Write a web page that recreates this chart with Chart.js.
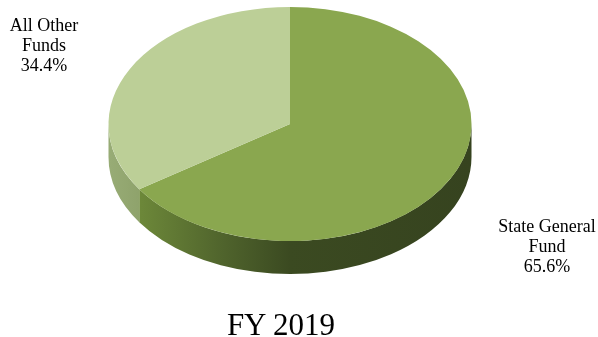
<!DOCTYPE html>
<html>
<head>
<meta charset="utf-8">
<title>FY 2019</title>
<script src="https://cdn.jsdelivr.net/npm/chart.js@4.4.1/dist/chart.umd.min.js"></script>
<style>
  html, body { margin: 0; padding: 0; background: #fff; }
  #wrap {
    position: relative; width: 598px; height: 337px; overflow: hidden;
    font-family: "Liberation Serif", "Times New Roman", serif; color: #000;
  }
  #wrap canvas { position: absolute; left: 0; top: 0; }
  .lbl { position: absolute; text-align: center; font-size: 18px; line-height: 20px; white-space: nowrap; }
  #title { position: absolute; left: 0; width: 562px; top: 309px; text-align: center; font-size: 31px; line-height: 31px; }
</style>
</head>
<body>
<div id="wrap">
  <canvas id="pie" width="598" height="337"></canvas>
  <div id="title">FY 2019</div>
</div>
<script>
// slices go clockwise from 12 o'clock
const categories = [['State General', 'Fund'], ['All Other', 'Funds']];
const shares = [65.6, 34.4];

// top face colours and the gradient stops for each slice's side wall
const faceColors = ['#8aa74f', '#bccf97'];
const wallStops = [
    [[0, '#7a9845'], [0.09, '#6c8739'], [0.32, '#4f632c'], [0.5, '#3b4a21'], [1, '#36431f']],
    [[0, '#98ac76'], [0.09, '#8ea26b'], [1, '#8ea26b']]
];
// where the text for each slice sits (left, top, width)
const labelBoxes = [[486, 216, 122], [0, 15, 88]];

const TILT = 0.645;   // vertical squash of the disc
const DEPTH = 33;     // thickness of the disc

// draws the rim of the disc, then squashes the flat pie into an ellipse
const tilt3d = {
    id: 'tilt3d',
    beforeDatasetsDraw(chart) {
        const ctx = chart.ctx;
        const arcs = chart.getDatasetMeta(0).data;
        if (!arcs.length) return;
        const { x, y, outerRadius } = arcs[0].getProps(['x', 'y', 'outerRadius'], true);
        const rx = outerRadius, ry = outerRadius * TILT;

        arcs.forEach((arc, i) => {
            const { startAngle, endAngle } = arc.getProps(['startAngle', 'endAngle'], true);
            const grad = ctx.createLinearGradient(x - rx, 0, x + rx, 0);
            wallStops[i].forEach(s => grad.addColorStop(s[0], s[1]));
            // only the front half (0..PI) of the rim can be seen
            [0, 2 * Math.PI, -2 * Math.PI].forEach(off => {
                const a0 = Math.max(startAngle, off);
                const a1 = Math.min(endAngle, off + Math.PI);
                if (a1 <= a0) return;
                ctx.beginPath();
                ctx.ellipse(x, y, rx, ry, 0, a0, a1, false);
                ctx.lineTo(x + rx * Math.cos(a1), y + DEPTH + ry * Math.sin(a1));
                ctx.ellipse(x, y + DEPTH, rx, ry, 0, a1, a0, true);
                ctx.closePath();
                ctx.fillStyle = grad;
                ctx.fill();
            });
        });

        ctx.save();
        ctx.translate(x, y);
        ctx.scale(1, TILT);
        ctx.translate(-x, -y);
    },
    afterDatasetsDraw(chart) {
        chart.ctx.restore();
    }
};

new Chart(document.getElementById('pie').getContext('2d'), {
    type: 'pie',
    data: {
        labels: categories,
        datasets: [{
            data: shares,
            backgroundColor: faceColors,
            borderWidth: 0,
            clip: false
        }]
    },
    options: {
        responsive: false,
        animation: false,
        events: [],
        radius: 181.5,
        layout: { padding: { left: 0, right: 18, top: 0, bottom: 89 } },
        plugins: {
            legend: { display: false },
            tooltip: { enabled: false }
        }
    },
    plugins: [tilt3d]
});

// slice labels with their percentages
const wrap = document.getElementById('wrap');
categories.forEach((lines, i) => {
    const div = document.createElement('div');
    div.className = 'lbl';
    const [left, top, width] = labelBoxes[i];
    div.style.left = left + 'px';
    div.style.top = top + 'px';
    div.style.width = width + 'px';
    div.innerHTML = lines.concat(shares[i].toFixed(1) + '%').join('<br>');
    wrap.appendChild(div);
});
</script>
</body>
</html>
